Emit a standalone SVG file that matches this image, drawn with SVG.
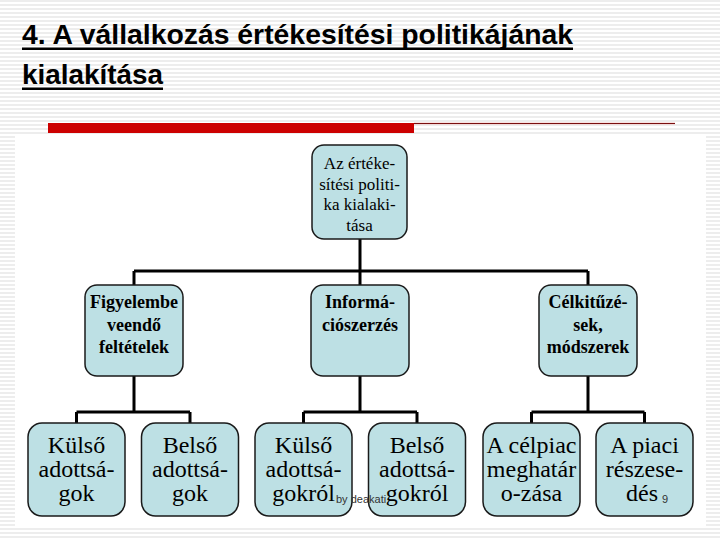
<svg xmlns="http://www.w3.org/2000/svg" width="720" height="540" viewBox="0 0 720 540">
<defs>
<pattern id="stripes" x="0" y="0" width="8" height="4" patternUnits="userSpaceOnUse">
<rect x="0" y="0" width="8" height="4" fill="#ffffff"/>
<rect x="0" y="0.5" width="8" height="1" fill="#dcdcdc"/>
</pattern>
<style>
.node rect{fill:#bde0e4;stroke:#1a1a1a;stroke-width:1.5}
.t{font-family:"Liberation Serif","Times New Roman",serif;fill:#000;text-anchor:middle}
.top{font-size:17px}
.mid{font-size:18px;font-weight:bold}
.bot{font-size:24px}
.conn path{fill:none;stroke:#000;stroke-width:3}
.title{font-family:"Liberation Sans",Arial,sans-serif;font-weight:bold;font-size:27px;fill:#000}
.foot{font-family:"Liberation Sans",Arial,sans-serif;font-size:11px;fill:#333}
</style>
</defs>
<rect x="0" y="0" width="720" height="540" fill="url(#stripes)"/>
<rect x="15" y="134" width="691" height="393" fill="#ffffff"/>
<g id="title">
<text class="title" x="22" y="44" textLength="551" lengthAdjust="spacingAndGlyphs">4. A vállalkozás értékesítési politikájának</text>
<rect x="22" y="47.5" width="551" height="2.5" fill="#000"/>
<text class="title" x="22" y="84" textLength="141" lengthAdjust="spacingAndGlyphs">kialakítása</text>
<rect x="22" y="87.5" width="141" height="2.5" fill="#000"/>
</g>
<rect x="48" y="123" width="366" height="10" fill="#cc0000"/>
<rect x="414" y="122.5" width="261" height="2" fill="#f3c6c6"/>
<rect x="414" y="123" width="261" height="1" fill="#7a1010"/>
<g class="conn" id="connectors">
<path d="M360 239 V286"/>
<path d="M134 271 H588"/>
<path d="M134 271 V286"/>
<path d="M588 271 V286"/>
<path d="M134 376 V412 M76.5 412 H190 M76.5 412 V424 M190 412 V424"/>
<path d="M360 376 V412 M303.5 412 H417 M303.5 412 V424 M417 412 V424"/>
<path d="M588 376 V412 M531.5 412 H644.5 M531.5 412 V424 M644.5 412 V424"/>
</g>
<g class="node" id="n-root">
<rect x="312" y="145" width="95" height="94" rx="12"/>
<text class="t top" x="359.5" y="169">Az értéke-</text>
<text class="t top" x="359.5" y="190">sítési politi-</text>
<text class="t top" x="359.5" y="210">ka kialaki-</text>
<text class="t top" x="359.5" y="231">tása</text>
</g>
<g class="node" id="n-figyelembe">
<rect x="85" y="285" width="98" height="91" rx="12"/>
<text class="t mid" x="134" y="308">Figyelembe</text>
<text class="t mid" x="134" y="331">veendő</text>
<text class="t mid" x="134" y="353">feltételek</text>
</g>
<g class="node" id="n-informacio">
<rect x="311" y="285" width="98" height="91" rx="12"/>
<text class="t mid" x="360" y="308">Informá-</text>
<text class="t mid" x="360" y="331">ciószerzés</text>
</g>
<g class="node" id="n-celkituzesek">
<rect x="539" y="285" width="98" height="91" rx="12"/>
<text class="t mid" x="588" y="308">Célkitűzé-</text>
<text class="t mid" x="588" y="331">sek,</text>
<text class="t mid" x="588" y="353">módszerek</text>
</g>
<g class="node" id="n-kulso1">
<rect x="28" y="423" width="97" height="93" rx="14"/>
<text class="t bot" x="76.5" y="453">Külső</text>
<text class="t bot" x="76.5" y="477">adottsá-</text>
<text class="t bot" x="76.5" y="501">gok</text>
</g>
<g class="node" id="n-belso1">
<rect x="141.5" y="423" width="97" height="93" rx="14"/>
<text class="t bot" x="190" y="453">Belső</text>
<text class="t bot" x="190" y="477">adottsá-</text>
<text class="t bot" x="190" y="501">gok</text>
</g>
<g class="node" id="n-kulso2">
<rect x="255" y="423" width="97" height="93" rx="14"/>
<text class="t bot" x="303.5" y="453">Külső</text>
<text class="t bot" x="303.5" y="477">adottsá-</text>
<text class="t bot" x="303.5" y="501">gokról</text>
</g>
<g class="node" id="n-belso2">
<rect x="368.5" y="423" width="97" height="93" rx="14"/>
<text class="t bot" x="417" y="453">Belső</text>
<text class="t bot" x="417" y="477">adottsá-</text>
<text class="t bot" x="417" y="501">gokról</text>
</g>
<g class="node" id="n-celpiac">
<rect x="483" y="423" width="97" height="93" rx="14"/>
<text class="t bot" x="531.5" y="453">A célpiac</text>
<text class="t bot" x="531.5" y="477">meghatár</text>
<text class="t bot" x="531.5" y="501">o-zása</text>
</g>
<g class="node" id="n-piaci">
<rect x="596" y="423" width="97" height="93" rx="14"/>
<text class="t bot" x="644.5" y="453">A piaci</text>
<text class="t bot" x="644.5" y="477">részese-</text>
<text class="t bot" x="642" y="501">dés</text>
</g>
<text class="foot" x="336" y="503">by deakati</text>
<text class="foot" x="662" y="503">9</text>
</svg>
